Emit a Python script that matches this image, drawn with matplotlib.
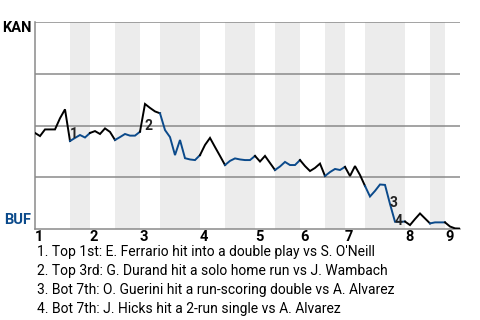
import matplotlib
matplotlib.use("Agg")
import matplotlib.pyplot as plt

# KAN win probability (%) after each play, play 0 = first pitch
win_pct = [46.4, 44.9, 48.1, 48.1, 48.1, 53.5, 57.8, 42.5, 44.0, 45.4,
           44.2, 46.4, 47.3, 45.9, 48.6, 46.9, 43.0, 44.4, 45.9, 45.1,
           45.1, 47.0, 60.4, 58.5, 56.8, 55.9, 47.8, 44.4, 35.7, 43.0,
           34.2, 33.6, 33.3, 35.7, 40.6, 44.0, 39.6, 35.3, 30.9, 32.9,
           34.1, 33.6, 33.3, 33.3, 35.3, 32.6, 35.3, 31.9, 28.5, 30.2,
           32.4, 30.9, 30.9, 33.3, 30.4, 28.0, 29.5, 31.6, 25.6, 27.5,
           29.0, 28.5, 30.0, 25.6, 30.4, 26.1, 20.8, 15.7, 18.4, 21.5,
           21.3, 12.1, 3.5, 3.5, 3.6, 1.9, 4.8, 7.5, 5.1, 2.7,
           3.2, 3.2, 3.2, 1.2, 0.3, 0.2]

# play index where each half-inning starts (1T, 1B, 2T, ... 9T) and end of game
half_starts = [0, 7, 11, 16, 21, 25, 33, 38, 44, 48, 53, 58, 62, 66, 74, 79, 82, 85]
innings = ["1", "2", "3", "4", "5", "6", "7", "8", "9"]

# key plays: (play index where it ends, label)
events = [(7, "1"), (22, "2"), (71, "3"), (72, "4")]
notes = [
    "1. Top 1st: E. Ferrario hit into a double play vs S. O'Neill",
    "2. Top 3rd: G. Durand hit a solo home run vs J. Wambach",
    "3. Bot 7th: O. Guerini hit a run-scoring double vs A. Alvarez",
    "4. Bot 7th: J. Hicks hit a 2-run single vs A. Alvarez",
]

away_color = "black"
home_color = "#0b4a8b"
grid_color = "#8a8a8a"

plt.rcParams["font.family"] = ["Roboto", "DejaVu Sans"]

fig = plt.figure(figsize=(4.8, 3.2), dpi=100)
ax = fig.add_axes([35 / 480, 91 / 320, 425 / 480, 207 / 320])

n_plays = half_starts[-1]
ax.set_xlim(0, n_plays)
ax.set_ylim(0, 100)

# shade the bottom halves
for i in range(1, len(half_starts) - 1, 2):
    ax.axvspan(half_starts[i], half_starts[i + 1], color="#ececec", lw=0, zorder=0)

for yv in [25, 50, 75, 100]:
    ax.axhline(yv, color=grid_color, lw=1.1, zorder=1)

# win probability line, black for top halves, blue for bottom halves
xs = list(range(len(win_pct)))
for i in range(len(half_starts) - 1):
    s, e = half_starts[i], half_starts[i + 1]
    c = away_color if i % 2 == 0 else home_color
    ax.plot(xs[s:e + 1], win_pct[s:e + 1], color=c, lw=1.4, zorder=3,
            solid_joinstyle="miter")

for idx, lab in events:
    mx = idx - 0.5
    my = (win_pct[idx - 1] + win_pct[idx]) / 2
    ax.annotate(lab, (mx, my), xytext=(1.5, -6), textcoords="offset points",
                ha="left", va="center", fontsize=10, fontweight="bold",
                color="#222222", zorder=4)

for side in ["top", "right"]:
    ax.spines[side].set_visible(False)
for side in ["left", "bottom"]:
    ax.spines[side].set_color(grid_color)
    ax.spines[side].set_linewidth(1.1)

ax.set_yticks([])
ax.set_xticks(half_starts[0:-1:2])
ax.set_xticklabels(innings, fontsize=10.5, fontweight="bold", ha="left")
ax.tick_params(axis="x", length=0, pad=1)

ax.text(-0.008, 0.97, "KAN", transform=ax.transAxes, ha="right", va="center",
        fontsize=10.5, fontweight="bold", color=away_color)
ax.text(-0.008, 0.045, "BUF", transform=ax.transAxes, ha="right", va="center",
        fontsize=10.5, fontweight="bold", color=home_color)

for k, t in enumerate(notes):
    fig.text(37 / 480, 1 - (252 + 19 * k) / 320, t, ha="left", va="center",
             fontsize=10, color="black")

fig.savefig("out.png", dpi=100)
